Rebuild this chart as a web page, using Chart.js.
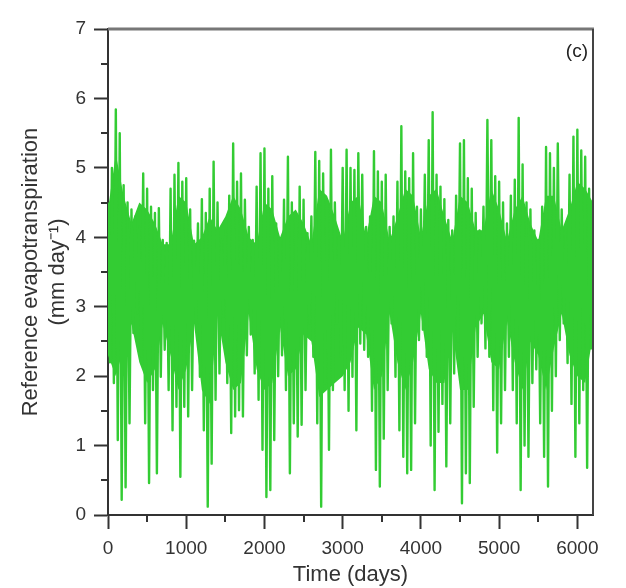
<!DOCTYPE html>
<html>
<head>
<meta charset="utf-8">
<title>Reference evapotranspiration</title>
<script src="https://cdn.jsdelivr.net/npm/chart.js@4.4.1/dist/chart.umd.min.js"></script>
<style>
  html, body { margin: 0; padding: 0; background: #fff; }
</style>
</head>
<body>
<canvas id="etChart" width="626" height="588"></canvas>
<script>
// daily ET0, kept as the high and the low of every 50-day block
const blockStep = 50;
const blockHigh = [
  4.5, 5.0, 5.84, 5.5, 4.75, 4.5, 4.4, 4.3, 4.15, 4.92,
  4.7, 4.44, 4.35, 4.42, 3.96, 3.92, 4.7, 4.9, 5.07, 4.8,
  4.85, 4.4, 3.95, 4.2, 4.55, 4.35, 4.7, 5.09, 4.5, 3.96,
  4.1, 4.6, 5.35, 4.8, 4.92, 4.54, 4.15, 3.96, 4.73, 5.21,
  5.28, 4.7, 4.88, 4.2, 3.96, 4.54, 5.16, 4.5, 4.3, 4.73,
  4.54, 4.06, 4.3, 5.23, 5.1, 4.92, 4.54, 5.26, 4.5, 4.0,
  5.0, 5.26, 5.0, 4.97, 5.21, 4.9, 4.15, 4.3, 5.24, 4.95,
  4.8, 4.9, 4.15, 4.3, 4.8, 5.6, 4.95, 4.85, 5.21, 4.44,
  4.4, 4.9, 5.4, 5.8, 4.9, 4.73, 4.55, 4.25, 4.1, 4.6,
  5.35, 5.4, 4.85, 4.7, 4.35, 4.1, 4.44, 5.69, 5.4, 4.88,
  4.8, 4.5, 4.2, 4.6, 4.83, 5.72, 5.05, 4.5, 4.4, 4.1,
  3.96, 4.44, 5.3, 5.21, 5.0, 5.35, 4.4, 4.1, 4.9, 5.45,
  5.55, 5.25, 5.16, 4.7, 4.5
];
const blockLow = [
  2.2, 1.9, 1.08, 0.22, 0.4, 1.32, 2.62, 2.91, 2.28, 1.32,
  0.46, 1.8, 0.6, 1.99, 2.38, 1.8, 1.22, 1.56, 0.55, 1.56,
  1.42, 1.8, 2.76, 1.99, 1.22, 0.12, 0.74, 1.66, 2.04, 2.86,
  1.9, 1.18, 1.42, 1.51, 1.42, 2.3, 2.6, 2.04, 1.66, 0.94,
  0.26, 0.36, 1.08, 2.0, 2.3, 1.8, 0.6, 1.32, 1.13, 1.3,
  1.8, 2.76, 2.28, 1.32, 0.12, 1.9, 0.94, 1.8, 2.76, 2.28,
  1.8, 1.5, 1.99, 1.22, 2.47, 2.38, 2.28, 1.5, 0.65, 0.41,
  1.1, 1.8, 2.76, 1.99, 1.22, 0.84, 0.6, 0.65, 1.32, 2.52,
  2.67, 2.28, 1.0, 0.36, 1.2, 1.6, 0.7, 1.32, 2.04, 2.5,
  0.17, 0.6, 0.46, 1.56, 2.28, 2.76, 2.4, 2.28, 1.51, 0.9,
  1.32, 1.8, 2.28, 1.8, 1.32, 0.36, 1.0, 0.84, 1.9, 2.1,
  1.32, 0.84, 0.41, 1.5, 2.0, 2.52, 2.76, 2.19, 1.6, 0.84,
  1.32, 1.8, 0.68, 2.4, 2.7
];

// where most days fall: top and bottom of the dense band, every 100 days
const bandStep = 100;
const bandTop = [
  4.4, 5.2, 4.6, 4.2, 4.5, 4.4, 4.2, 3.9, 3.9, 4.6,
  4.5, 3.9, 4.0, 4.3, 4.1, 4.3, 4.6, 4.4, 4.0, 3.9,
  4.5, 4.4, 4.0, 4.3, 4.4, 4.2, 3.9, 4.7, 4.6, 4.3,
  3.95, 4.5, 4.6, 4.0, 4.6, 4.5, 3.95, 4.3, 4.7, 4.6,
  4.0, 4.6, 4.7, 4.3, 3.95, 4.6, 4.5, 4.1, 4.1, 4.7,
  4.4, 3.95, 4.4, 4.6, 4.2, 3.95, 4.6, 4.6, 4.1, 4.4,
  4.8, 4.7, 4.5
];
const bandBottom = [
  2.3, 2.0, 2.4, 2.75, 2.2, 1.9, 2.1, 2.75, 2.3, 1.8,
  2.1, 2.75, 1.8, 1.6, 2.9, 2.2, 1.8, 1.9, 2.9, 2.1,
  1.8, 1.9, 2.7, 2.0, 2.1, 2.6, 2.5, 1.7, 1.8, 1.9,
  2.0, 2.2, 2.7, 2.6, 1.8, 2.0, 2.9, 2.2, 1.8, 2.2,
  2.9, 2.1, 1.9, 1.9, 2.7, 1.8, 1.8, 2.7, 2.9, 2.2,
  2.1, 2.8, 2.2, 1.8, 2.5, 2.3, 1.8, 2.4, 2.9, 2.3,
  2.0, 1.9, 2.6
];

const xTicks = [0, 1000, 2000, 3000, 4000, 5000, 6000];
const yTicks = [0, 1, 2, 3, 4, 5, 6, 7];

// high at the start of each block, low halfway through it
const series = [];
blockHigh.forEach((hi, i) => {
  const day = i * blockStep;
  series.push({ x: day, y: hi });
  series.push({ x: day + blockStep / 2, y: blockLow[i] });
});
const topLine = bandTop.map((v, i) => ({ x: i * bandStep, y: v }));
const bottomLine = bandBottom.map((v, i) => ({ x: i * bandStep, y: v }));

const GREEN = '#33cc33';
const FONT = '"Liberation Sans", Arial, sans-serif';
const INK = '#333';

// minor ticks, top/right frame and the panel letter
const framePlugin = {
  id: 'framePlugin',
  afterDraw(chart) {
    const { ctx, chartArea: a, scales: { x, y } } = chart;
    ctx.save();
    ctx.strokeStyle = INK;
    ctx.lineWidth = 2;
    ctx.beginPath();
    for (let i = 0; i < xTicks.length - 1; i++) {
      const px = Math.round(x.getPixelForValue((xTicks[i] + xTicks[i + 1]) / 2));
      ctx.moveTo(px, a.bottom);
      ctx.lineTo(px, a.bottom + 7);
    }
    for (let i = 0; i < yTicks.length - 1; i++) {
      const py = Math.round(y.getPixelForValue((yTicks[i] + yTicks[i + 1]) / 2));
      ctx.moveTo(a.left, py);
      ctx.lineTo(a.left - 7, py);
    }
    ctx.stroke();

    ctx.strokeStyle = '#777';
    ctx.lineWidth = 3;
    ctx.beginPath();
    ctx.moveTo(a.left, a.top);
    ctx.lineTo(a.right + 1, a.top);
    ctx.stroke();
    ctx.strokeStyle = '#444';
    ctx.lineWidth = 2;
    ctx.beginPath();
    ctx.moveTo(a.right, a.top);
    ctx.lineTo(a.right, a.bottom);
    ctx.stroke();

    ctx.fillStyle = '#222';
    ctx.font = '19px ' + FONT;
    ctx.textAlign = 'right';
    ctx.textBaseline = 'middle';
    ctx.fillText('(c)', a.right - 5, a.top + 23);
    ctx.restore();
  }
};

new Chart(document.getElementById('etChart'), {
  type: 'line',
  data: {
    datasets: [
      {
        data: series,
        borderColor: GREEN,
        borderWidth: 2.4,
        borderJoinStyle: 'round',
        pointRadius: 0,
        tension: 0,
        fill: false
      },
      {
        data: topLine,
        borderColor: GREEN,
        backgroundColor: GREEN,
        borderWidth: 0,
        pointRadius: 0,
        tension: 0,
        fill: '+1'
      },
      {
        data: bottomLine,
        borderColor: GREEN,
        borderWidth: 0,
        pointRadius: 0,
        tension: 0,
        fill: false
      }
    ]
  },
  options: {
    responsive: false,
    animation: false,
    devicePixelRatio: 1,
    layout: { padding: { top: 29, right: 33, left: 0, bottom: 0 } },
    plugins: { legend: { display: false }, tooltip: { enabled: false } },
    scales: {
      x: {
        type: 'linear',
        min: 0,
        max: 6200,
        afterBuildTicks: s => { s.ticks = xTicks.map(v => ({ value: v })); },
        afterFit: s => { s.height = 73; },
        grid: { drawOnChartArea: false, drawTicks: true, tickLength: 14, tickWidth: 2, tickColor: INK },
        border: { display: true, color: INK, width: 2 },
        ticks: { font: { family: FONT, size: 19 }, color: INK, padding: 8, maxRotation: 0, callback: v => String(v) },
        title: { display: true, text: 'Time (days)', color: INK, font: { family: FONT, size: 22 }, padding: { top: 0, bottom: 0 } }
      },
      y: {
        min: 0,
        max: 7,
        afterBuildTicks: s => { s.ticks = yTicks.map(v => ({ value: v })); },
        afterFit: s => { s.width = 108; },
        grid: { drawOnChartArea: false, drawTicks: true, tickLength: 14, tickWidth: 2, tickColor: INK },
        border: { display: true, color: INK, width: 2 },
        ticks: { font: { family: FONT, size: 19 }, color: INK, padding: 8, callback: v => String(v) },
        title: {
          display: true,
          text: ['Reference evapotranspiration', '(mm day\u207B\u00B9)'],
          color: INK,
          font: { family: FONT, size: 22 },
          padding: { top: 18, bottom: 0 }
        }
      }
    }
  },
  plugins: [framePlugin]
});
</script>
</body>
</html>
